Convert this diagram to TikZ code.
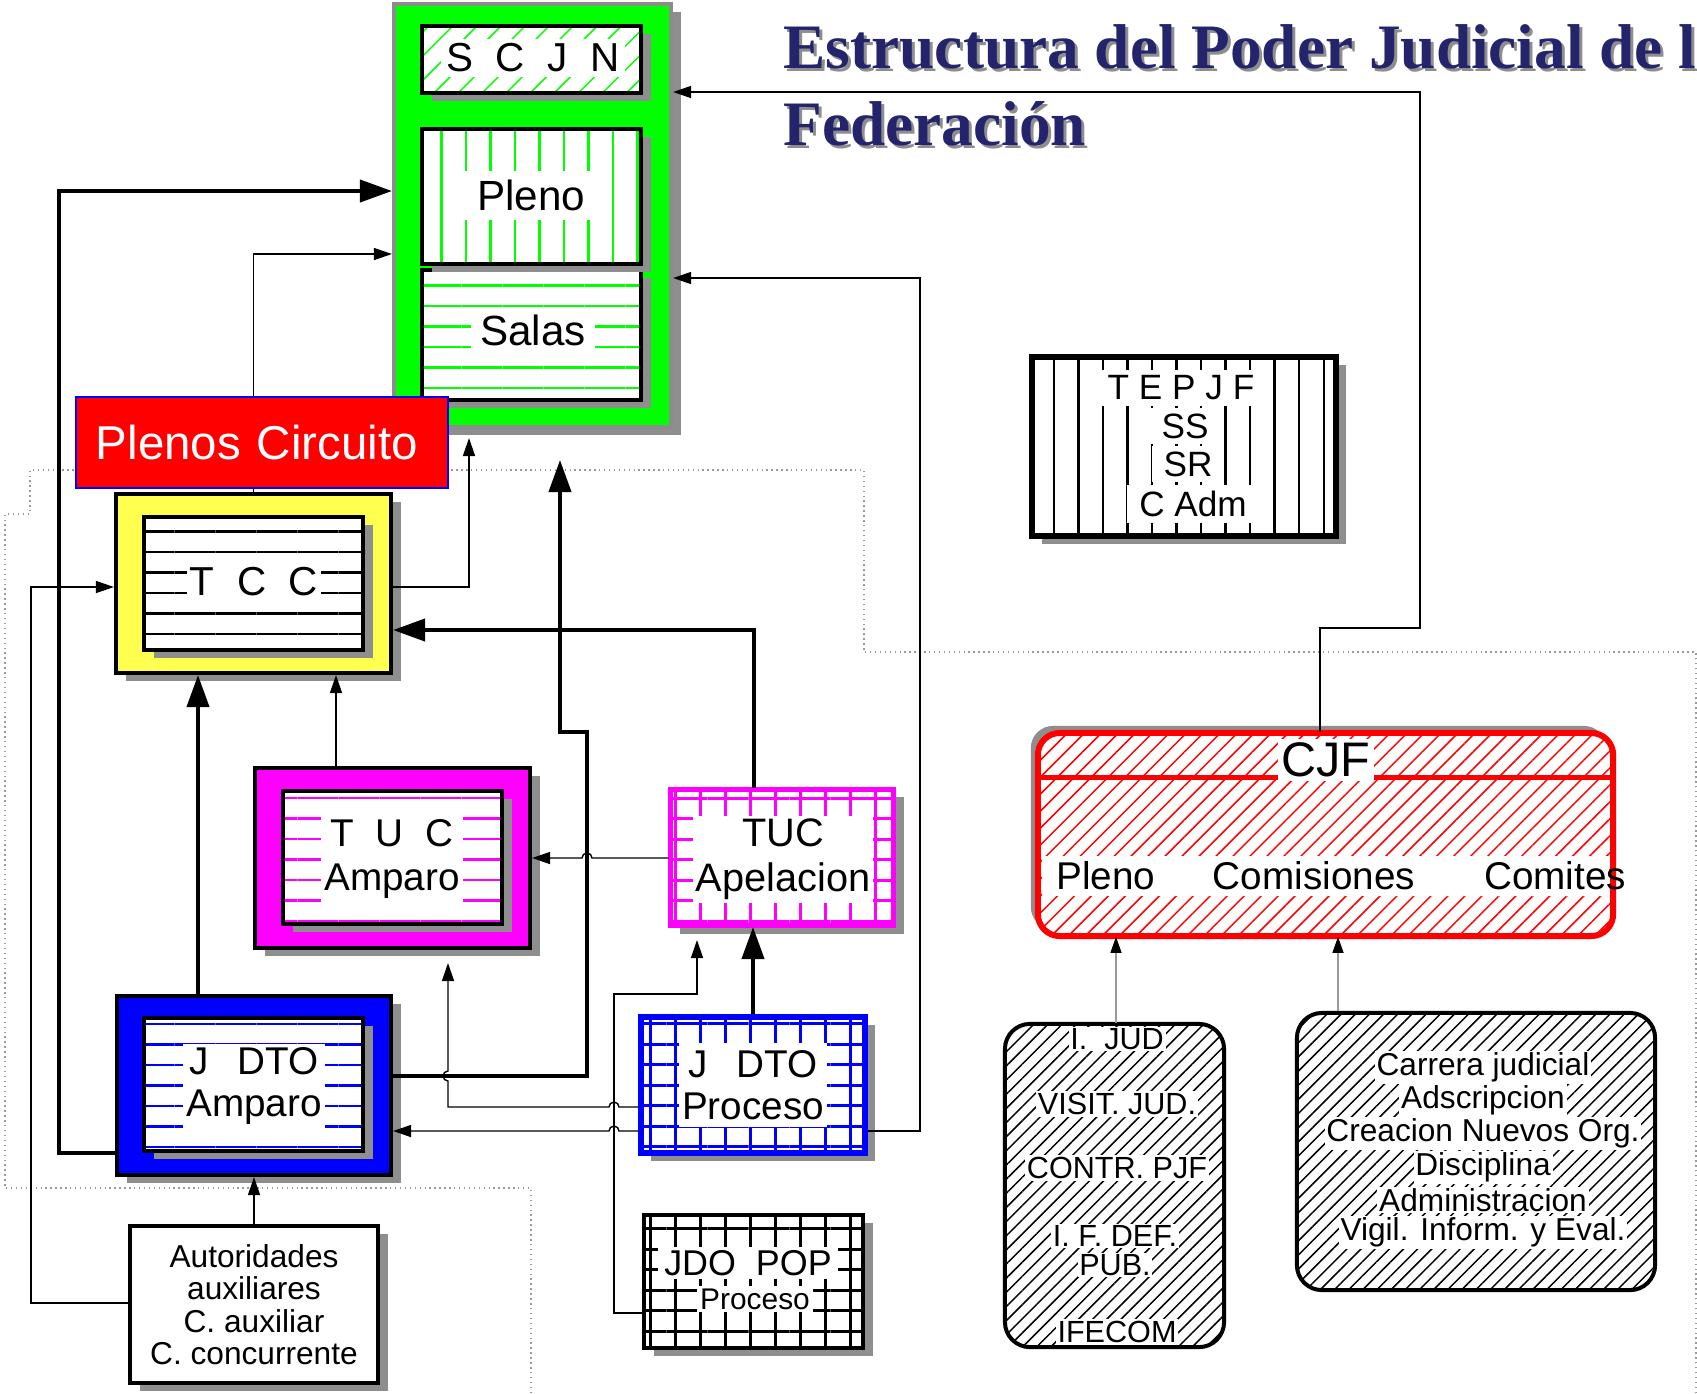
\documentclass[tikz,border=0pt]{standalone}
\usepackage{fontspec}
\setmainfont{Liberation Sans}
\newfontfamily\titlefont{Liberation Serif}
\usetikzlibrary{arrows.meta,patterns.meta,shadows}

\definecolor{vgreen}{RGB}{0,255,0}
\definecolor{vyellow}{RGB}{255,255,80}
\definecolor{vmagenta}{RGB}{255,0,255}
\definecolor{vblue}{RGB}{0,0,255}
\definecolor{vred}{RGB}{255,0,0}
\definecolor{shadowgray}{RGB}{142,142,142}
\definecolor{titleblue}{RGB}{36,36,108}

\newcommand{\boxfont}[2]{\fontsize{#1}{#2}\selectfont}

\begin{document}
\begin{tikzpicture}[x=0.01cm,y=-0.01cm,
  orgbox/.style={draw,line width=0.04cm,inner sep=0pt},
  boxshadow/.style={drop shadow={shadow xshift=0.1cm,shadow yshift=-0.08cm,fill=shadowgray,opacity=1}},
  whitebase/.style={preaction={fill=white}},
  hlines/.style={pattern={Lines[angle=0,distance=0.205cm,line width=0.025cm]},pattern color=#1},
  vlines/.style={pattern={Lines[angle=90,distance=0.245cm,line width=0.025cm]},pattern color=#1},
  gridlines/.style={pattern={Lines[angle=0,distance=0.205cm,line width=0.03cm]},pattern color=#1,
    postaction={pattern={Lines[angle=90,distance=0.25cm,line width=0.03cm]},pattern color=#1}},
  slant/.style n args={2}{pattern={Lines[angle=45,distance=#2,line width=0.015cm]},pattern color=#1},
  txt/.style={fill=white,inner sep=0.03cm},
  ttl/.style={inner sep=0pt,anchor=base west,font=\titlefont\bfseries\boxfont{18}{20},text=titleblue},
  thinarr/.style={line width=0.4pt,-{Triangle[length=0.18cm,width=0.12cm]}},
  thickarr/.style={line width=0.04cm,-{Triangle[length=0.32cm,width=0.22cm]}},
  grayarr/.style={draw=black!40,line width=0.4pt,-{Triangle[length=0.16cm,width=0.11cm,color=black]}},
  frameline/.style={draw=black!40,line width=0.4pt,densely dotted}]

\useasboundingbox (0,0) rectangle (1697,1393);
\fill[white] (0,0) rectangle (1697,1393);
\clip (0,0) rectangle (1697,1393);

\draw[frameline] (1696,1393) -- (1696,652) -- (864,652) -- (864,470) -- (30,470)
  -- (30,514) -- (5,514) -- (5,1188) -- (531,1188) -- (531,1393);

% titulo
\path (786,71) node[ttl,text=shadowgray] (tit1s) {Estructura del Poder Judicial de la};
\path (783,68) node[ttl] (tit1) {Estructura del Poder Judicial de la};
\path (786,148) node[ttl,text=shadowgray] (tit2s) {Federación};
\path (783,145) node[ttl] (tit2) {Federación};

% SCJN
\path (532.5,215.5) node[orgbox,draw=black!45,fill=vgreen,boxshadow,minimum width=2.77cm,minimum height=4.23cm] (scjnBox) {};
\path (531.5,59.5) node[orgbox,boxshadow,whitebase,slant={vgreen}{0.17cm},minimum width=2.19cm,minimum height=0.67cm] (scjn) {};
\path (533,58) node[txt,inner sep=0.05cm,font=\boxfont{11.5}{13}] (scjnT) {S~~C~~J~~N};
\path (531.5,335) node[orgbox,boxshadow,whitebase,hlines=vgreen,minimum width=2.19cm,minimum height=1.30cm] (salas) {};
\path (533,330) node[txt,inner xsep=0.09cm,inner ysep=0.07cm,font=\boxfont{12}{14}] (salasT) {Salas};
\path (531.5,196.5) node[orgbox,boxshadow,whitebase,vlines=vgreen,minimum width=2.19cm,minimum height=1.35cm] (pleno) {};
\path (531,195) node[txt,inner xsep=0.15cm,inner ysep=0.09cm,font=\boxfont{12}{14}] (plenoT) {Pleno};

% TCC
\path (253.5,583.5) node[orgbox,fill=vyellow,boxshadow,minimum width=2.75cm,minimum height=1.79cm] (tcc) {};
\path (253.5,583.5) node[orgbox,boxshadow,whitebase,hlines=black,minimum width=2.19cm,minimum height=1.33cm] (tccIn) {};
\path (254,582) node[txt,font=\boxfont{11.5}{13}] (tccT) {T~~C~~C};

\draw[thinarr] (tcc.north) |- (scjnBox.west |- 0,254);
\path (262,442.5) node[draw=vblue,line width=0.02cm,fill=vred,inner xsep=0.2cm,text width=3.32cm,align=left,minimum width=3.72cm,minimum height=0.91cm,text=white,font=\boxfont{13.5}{15}] (plenos) {Plenos Circuito};

% TUC
\path (392.5,858) node[orgbox,fill=vmagenta,boxshadow,minimum width=2.75cm,minimum height=1.80cm] (tucAm) {};
\path (392.5,857.5) node[orgbox,boxshadow,whitebase,hlines=vmagenta,minimum width=2.19cm,minimum height=1.33cm] (tucAmIn) {};
\path (392,859) node[txt,align=center,font=\boxfont{11}{12.5}] (tucAmT) {T~~U~~C\\Amparo};
\path (782,857.5) node[orgbox,draw=vmagenta,line width=0.05cm,boxshadow,whitebase,gridlines=vmagenta,minimum width=2.23cm,minimum height=1.36cm] (tucAp) {};
\path (783,859) node[txt,align=center,font=\boxfont{11.3}{12.8}] (tucApT) {TUC\\Apelacion};

% juzgados
\path (254,1085.5) node[orgbox,fill=vblue,boxshadow,minimum width=2.74cm,minimum height=1.79cm] (jdtoAm) {};
\path (253.5,1084.5) node[orgbox,boxshadow,whitebase,hlines=vblue,minimum width=2.19cm,minimum height=1.33cm] (jdtoAmIn) {};
\path (254,1086) node[txt,align=center,font=\boxfont{11}{12}] (jdtoAmT) {J\hspace{0.75em}DTO\\Amparo};
\path (753,1085) node[orgbox,draw=vblue,line width=0.06cm,boxshadow,whitebase,gridlines=vblue,minimum width=2.24cm,minimum height=1.36cm] (jdtoPr) {};
\path (753,1085) node[txt,inner ysep=0.07cm,align=center,font=\boxfont{11}{12}] (jdtoPrT) {J\hspace{0.75em}DTO\\Proceso};
\path (753.5,1281.5) node[orgbox,boxshadow,whitebase,gridlines=black,minimum width=2.19cm,minimum height=1.33cm] (jdoPop) {};
\path (748,1263) node[txt,inner xsep=0.06cm,font=\boxfont{10.2}{12}] (jdoPopT) {JDO~~POP};
\path (755,1299) node[txt,font=\boxfont{8.5}{10}] (jdoPopP) {Proceso};
\path (254,1304.5) node[orgbox,fill=white,boxshadow,align=center,minimum width=2.48cm,minimum height=1.57cm,font=\boxfont{9}{9.2}] (autor) {Autoridades\\auxiliares\\C. auxiliar\\C. concurrente};

% TEPJF
\path (1184,446.5) node[orgbox,line width=0.06cm,boxshadow,whitebase,vlines=black,minimum width=3.04cm,minimum height=1.79cm] (tepjf) {};
\path (1181,388) node[txt,inner xsep=0.12cm,inner ysep=0.06cm,font=\boxfont{10}{12}] (tepjfT) {T E P J F};
\path (1185,426) node[txt,inner xsep=0.12cm,inner ysep=0.06cm,font=\boxfont{10}{12}] (tepjfSS) {SS};
\path (1188,464) node[txt,inner xsep=0.12cm,inner ysep=0.06cm,font=\boxfont{10}{12}] (tepjfSR) {SR};
\path (1193,504) node[txt,inner xsep=0.12cm,inner ysep=0.06cm,font=\boxfont{10}{12}] (tepjfCA) {C Adm};

% CJF
\path (1325.5,834.5) node[draw=vred,line width=0.06cm,rounded corners=0.22cm,drop shadow={shadow xshift=-0.07cm,shadow yshift=0.07cm,fill=shadowgray,opacity=1},whitebase,slant={vred}{0.12cm},minimum width=5.75cm,minimum height=2.03cm] (cjf) {};
\draw[vred,line width=0.05cm] (cjf.west |- 0,777) -- (cjf.east |- 0,777);
\path (1326,760) node[txt,inner sep=0.04cm,font=\boxfont{13.8}{15}] (cjfT) {CJF};
\path (1325.5,876) node[fill=white,inner sep=0pt,minimum width=5.66cm,minimum height=0.40cm] (cjfBand) {};
\path (1106,876) node[font=\boxfont{11}{13}] (cjfPleno) {Pleno};
\path (1314,876) node[font=\boxfont{11}{13}] (cjfCom) {Comisiones};
\path (1555,876) node[font=\boxfont{11}{13}] (cjfComi) {Comites};

\path (1114.5,1185.5) node[orgbox,rounded corners=0.25cm,whitebase,slant={black}{0.10cm},minimum width=2.19cm,minimum height=3.23cm] (ijud) {};
\path (1117,1039) node[txt,inner sep=0.5pt,font=\boxfont{8.7}{10}] (ijud1) {I.~~JUD};
\path (1117,1104) node[txt,inner sep=0.5pt,font=\boxfont{8.7}{10}] (ijud2) {VISIT. JUD.};
\path (1117,1168) node[txt,inner sep=0.5pt,font=\boxfont{8.7}{10}] (ijud3) {CONTR. PJF};
\path (1115,1236) node[txt,inner sep=0.5pt,font=\boxfont{8.7}{10}] (ijud4) {I. F. DEF.};
\path (1115,1265) node[txt,inner sep=0.5pt,font=\boxfont{8.7}{10}] (ijud5) {PUB.};
\path (1117,1332) node[txt,inner sep=0.5pt,font=\boxfont{8.7}{10}] (ijud6) {IFECOM};

\path (1476,1151.5) node[orgbox,rounded corners=0.25cm,whitebase,slant={black}{0.10cm},minimum width=3.58cm,minimum height=2.77cm] (carrera) {};
\path (1483,1067) node[txt,inner sep=0.5pt,font=\boxfont{9}{10}] (car1) {Carrera judicial};
\path (1483,1100) node[txt,inner sep=0.5pt,font=\boxfont{9}{10}] (car2) {Adscripcion};
\path (1483,1133) node[txt,inner sep=0.5pt,font=\boxfont{9}{10}] (car3) {Creacion Nuevos Org.};
\path (1483,1167) node[txt,inner sep=0.5pt,font=\boxfont{9}{10}] (car4) {Disciplina};
\path (1483,1200) node[txt,inner sep=0.5pt,font=\boxfont{9}{10}] (car5) {Administracion};
\path (1483,1232) node[txt,inner sep=0.5pt,font=\boxfont{9}{10}] (car6) {Vigil. Inform. y Eval.};

% conexiones
\draw[thickarr] (jdtoAm.west |- 0,1153) -| (59,191) -- (scjnBox.west |- 0,191);
\draw[thickarr] (jdtoAm.north -| 198,0) -- (tcc.south -| 198,0);
\draw[thinarr] (tucAm.north -| 336,0) -- (tcc.south -| 336,0);
\coordinate (tccUp) at (469,438);
\draw[thinarr] (tcc.east |- 0,587) -| (tccUp);
\coordinate (salasUp) at (560,460);
\draw[thickarr] (jdtoAm.east |- 0,1076) -| (587,732) -| (salasUp);
\draw[thickarr] (tucAp.north -| 754,0) |- (tcc.east |- 0,630);
\draw[thickarr] (jdtoPr.north) -- (tucAp.south -| jdtoPr.north);
\draw[thinarr] (tucAp.west |- 0,858) -- (592,858) arc[start angle=0,end angle=180,radius=0.05cm] -- (tucAm.east |- 0,858);
\coordinate (tucAmUp) at (448,963);
\draw[thinarr] (jdtoPr.west |- 0,1107) -- (619,1107) arc[start angle=0,end angle=180,radius=0.05cm] -- (448,1107)
  -- (448,1081) arc[start angle=270,end angle=90,radius=0.05cm] -- (tucAmUp);
\draw[thinarr] (jdtoPr.west |- 0,1131) -- (619,1131) arc[start angle=0,end angle=180,radius=0.05cm] -- (jdtoAm.east |- 0,1131);
\coordinate (tucApUp) at (697,940);
\draw[thinarr] (jdoPop.west |- 0,1313) -| (614,994) -| (tucApUp);
\draw[thinarr] (jdtoPr.east |- 0,1131) -| (920,278) -- (scjnBox.east |- 0,278);
\draw[thinarr] (cjf.north -| 1320,0) |- (1420,628) |- (scjnBox.east |- 0,92);
\draw[thinarr] (autor.north) -- (jdtoAm.south);
\draw[thinarr] (autor.west |- 0,1303) -| (31,587) -- (tcc.west |- 0,587);
\draw[grayarr] (ijud.north -| 1116,0) -- (cjf.south -| 1116,0);
\draw[grayarr] (carrera.north -| 1338,0) -- (cjf.south -| 1338,0);
\end{tikzpicture}
\end{document}
